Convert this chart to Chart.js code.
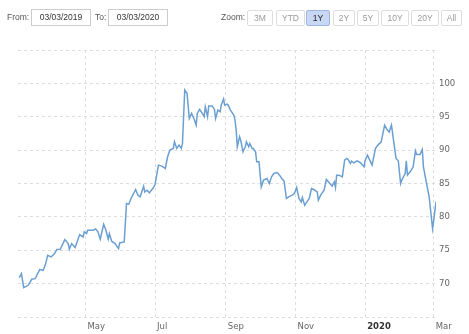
<!DOCTYPE html>
<html>
<head>
<meta charset="utf-8">
<script src="https://cdn.jsdelivr.net/npm/chart.js@4/dist/chart.umd.min.js"></script>
<style>
  body { margin: 0; background: #fff; }
  #wrap { position: relative; width: 469px; height: 334px; overflow: hidden; }
  #chart { position: absolute; left: 0; top: 0; }
  .bar { position: absolute; top: 0; left: 0; width: 469px; height: 34px;
         font: 8.5px "Liberation Sans", Arial, sans-serif; color: #555; }
  .lbl { position: absolute; top: 12px; }
  .inp { position: absolute; top: 9px; height: 15px; line-height: 15px; border: 1px solid #ccc;
         text-align: center; color: #333; background: #fff; }
  .btn { position: absolute; top: 10px; height: 14px; line-height: 14px; border: 1px solid #ddd;
         border-radius: 2px; text-align: center; color: #999; background: #fff; }
  .btn.on { background: #c8d7f3; border-color: #9fb6de; color: #222; }
</style>
</head>
<body>
<div id="wrap">
  <canvas id="chart" width="469" height="334"></canvas>
  <div class="bar">
    <span class="lbl" style="left:7px">From:</span>
    <div class="inp" style="left:31px;width:58px">03/03/2019</div>
    <span class="lbl" style="left:95px">To:</span>
    <div class="inp" style="left:108px;width:58px">03/03/2020</div>
    <span class="lbl" style="left:221px">Zoom:</span>
    <div class="btn" style="left:247px;width:24px">3M</div>
    <div class="btn" style="left:276px;width:27px">YTD</div>
    <div class="btn on" style="left:306px;width:22px">1Y</div>
    <div class="btn" style="left:333px;width:20px">2Y</div>
    <div class="btn" style="left:357px;width:20px">5Y</div>
    <div class="btn" style="left:381px;width:26px">10Y</div>
    <div class="btn" style="left:411px;width:26px">20Y</div>
    <div class="btn" style="left:441px;width:19px">All</div>
  </div>
</div>
<script>
const dates = [
  '2019-03-04','2019-03-06','2019-03-08','2019-03-12','2019-03-15','2019-03-18','2019-03-22','2019-03-25','2019-03-27','2019-03-29',
  '2019-04-01','2019-04-04','2019-04-06','2019-04-09','2019-04-13','2019-04-16','2019-04-17','2019-04-19','2019-04-22','2019-04-26',
  '2019-04-29','2019-04-30','2019-05-02','2019-05-03','2019-05-08','2019-05-10','2019-05-12','2019-05-14','2019-05-17','2019-05-19',
  '2019-05-21','2019-05-22','2019-05-24','2019-05-27','2019-05-30','2019-05-31','2019-06-04','2019-06-06','2019-06-08','2019-06-10',
  '2019-06-14','2019-06-16','2019-06-18','2019-06-21','2019-06-22','2019-06-24','2019-06-26','2019-06-29','2019-07-01','2019-07-04',
  '2019-07-07','2019-07-10','2019-07-12','2019-07-14','2019-07-17','2019-07-18','2019-07-20','2019-07-22','2019-07-24','2019-07-25',
  '2019-07-27','2019-07-29','2019-07-31','2019-08-02','2019-08-04','2019-08-06','2019-08-07','2019-08-09','2019-08-11','2019-08-13',
  '2019-08-14','2019-08-16','2019-08-17','2019-08-20','2019-08-22','2019-08-23','2019-08-25','2019-08-27','2019-08-28','2019-08-30',
  '2019-08-31','2019-09-02','2019-09-03','2019-09-05','2019-09-08','2019-09-09','2019-09-10','2019-09-11','2019-09-13','2019-09-14',
  '2019-09-16','2019-09-18','2019-09-19','2019-09-21','2019-09-22','2019-09-24','2019-09-25','2019-09-27','2019-09-28','2019-09-30',
  '2019-10-02','2019-10-04','2019-10-07','2019-10-09','2019-10-11','2019-10-13','2019-10-16','2019-10-18','2019-10-20','2019-10-22',
  '2019-10-24','2019-10-26','2019-10-29','2019-10-31','2019-11-02','2019-11-04','2019-11-06','2019-11-07','2019-11-09','2019-11-11',
  '2019-11-13','2019-11-15','2019-11-17','2019-11-20','2019-11-21','2019-11-23','2019-11-26','2019-11-28','2019-12-01','2019-12-03',
  '2019-12-05','2019-12-06','2019-12-07','2019-12-09','2019-12-12','2019-12-14','2019-12-16','2019-12-17','2019-12-19','2019-12-20',
  '2019-12-22','2019-12-25','2019-12-28','2019-12-31','2020-01-01','2020-01-03','2020-01-05','2020-01-07','2020-01-10','2020-01-11',
  '2020-01-13','2020-01-15','2020-01-18','2020-01-20','2020-01-22','2020-01-24','2020-01-26','2020-01-28','2020-01-30','2020-02-01',
  '2020-02-02','2020-02-05','2020-02-06','2020-02-07','2020-02-10','2020-02-12','2020-02-14','2020-02-15','2020-02-18','2020-02-20',
  '2020-02-21','2020-02-24','2020-02-26','2020-02-29','2020-03-01','2020-03-03'
];
const prices = [
  70.9, 71.5, 69.4, 69.75, 70.65, 70.75, 72.1, 72.0, 72.85, 74.25,
  74.0, 74.5, 75.1, 75.15, 76.6, 76.0, 75.15, 76.0, 75.4, 77.35,
  77.0, 77.75, 77.5, 78.0, 78.0, 78.2, 77.75, 76.65, 78.9, 78.0,
  76.65, 77.5, 76.35, 76.0, 75.25, 76.1, 76.25, 82.0, 81.9, 82.75,
  84.1, 83.25, 83.0, 84.6, 83.75, 84.0, 83.6, 84.25, 84.85, 87.75,
  87.6, 87.25, 89.0, 90.0, 90.25, 91.25, 90.25, 90.75, 90.25, 91.0,
  99.0, 98.5, 94.75, 95.5, 94.75, 93.75, 95.5, 96.1, 95.6, 95.0,
  96.5, 95.0, 96.6, 96.6, 96.1, 94.75, 96.0, 95.75, 96.75, 97.65,
  96.75, 96.9, 96.75, 96.0, 95.25, 94.5, 93.1, 90.5, 92.0, 91.5,
  89.75, 90.5, 91.25, 90.5, 91.0, 90.25, 90.25, 89.75, 88.25, 88.25,
  84.5, 85.5, 85.75, 85.0, 86.0, 86.5, 86.65, 86.25, 85.75, 85.35,
  82.75, 83.0, 83.25, 83.5, 84.4, 82.75, 82.25, 82.9, 81.75, 82.25,
  82.75, 84.25, 84.1, 83.75, 82.5, 83.25, 84.0, 85.6, 85.0, 84.6,
  85.25, 84.4, 86.25, 86.25, 86.0, 88.5, 88.75, 88.6, 88.0, 88.35,
  88.1, 88.4, 88.1, 87.5, 88.5, 89.25, 88.5, 87.75, 90.25, 90.5,
  90.9, 91.25, 93.75, 93.1, 92.7, 93.75, 91.25, 88.75, 88.4, 85.0,
  85.5, 86.5, 88.4, 86.25, 86.9, 87.5, 89.9, 89.35, 89.35, 90.1,
  87.5, 84.75, 83.0, 78.25, 79.5, 82.25
];
const tickDates = ['2019-05-01', '2019-07-01', '2019-09-01', '2019-11-01', '2020-01-01', '2020-03-01'];
const tickLabels = ['May', 'Jul', 'Sep', 'Nov', '2020', 'Mar'];
const yTicks = [70, 75, 80, 85, 90, 95, 100];
const rangeStart = '2019-03-03';
const rangeEnd = '2020-03-03';

const tickValues = tickDates.map(d => Date.parse(d));
const points = dates.map((d, i) => ({ x: Date.parse(d), y: prices[i] }));
const gridColor = '#dedede';
const isYear = ctx => !!ctx.tick && tickLabels[tickValues.indexOf(ctx.tick.value)] === '2020';

new Chart(document.getElementById('chart'), {
  type: 'line',
  data: {
    datasets: [{
      data: points,
      borderColor: '#6b9fd2',
      borderWidth: 1.5,
      pointRadius: 0,
      tension: 0,
      fill: false
    }]
  },
  options: {
    responsive: false,
    animation: false,
    layout: { padding: { left: 18, top: 50, right: 0, bottom: 0 } },
    plugins: { legend: { display: false }, tooltip: { enabled: false } },
    scales: {
      x: {
        type: 'linear',
        min: Date.parse(rangeStart),
        max: Date.parse(rangeEnd),
        afterBuildTicks: s => { s.ticks = tickValues.map(v => ({ value: v })); },
        afterFit: s => { s.height = 17; s.paddingLeft = 0; s.paddingRight = 0; },
        border: { display: false, dash: [3, 3] },
        grid: { color: gridColor, drawTicks: false },
        ticks: {
          autoSkip: false,
          maxRotation: 0,
          align: 'start',
          labelOffset: 2,
          padding: 5,
          color: ctx => isYear(ctx) ? '#333' : '#666',
          font: ctx => ({
            family: '"DejaVu Sans", Verdana, sans-serif',
            size: 8.5,
            weight: isYear(ctx) ? 'bold' : 'normal'
          }),
          callback: v => tickLabels[tickValues.indexOf(v)] || ''
        }
      },
      y: {
        position: 'right',
        min: 65,
        max: 105,
        afterFit: s => { s.width = 33; s.paddingTop = 0; s.paddingBottom = 0; },
        border: { display: false, dash: [3, 3] },
        grid: { color: gridColor, drawTicks: false },
        ticks: {
          stepSize: 5,
          padding: 3,
          color: '#666',
          font: { family: '"DejaVu Sans", Verdana, sans-serif', size: 8.5 },
          callback: v => yTicks.includes(v) ? String(v) : ''
        }
      }
    }
  }
});
</script>
</body>
</html>
